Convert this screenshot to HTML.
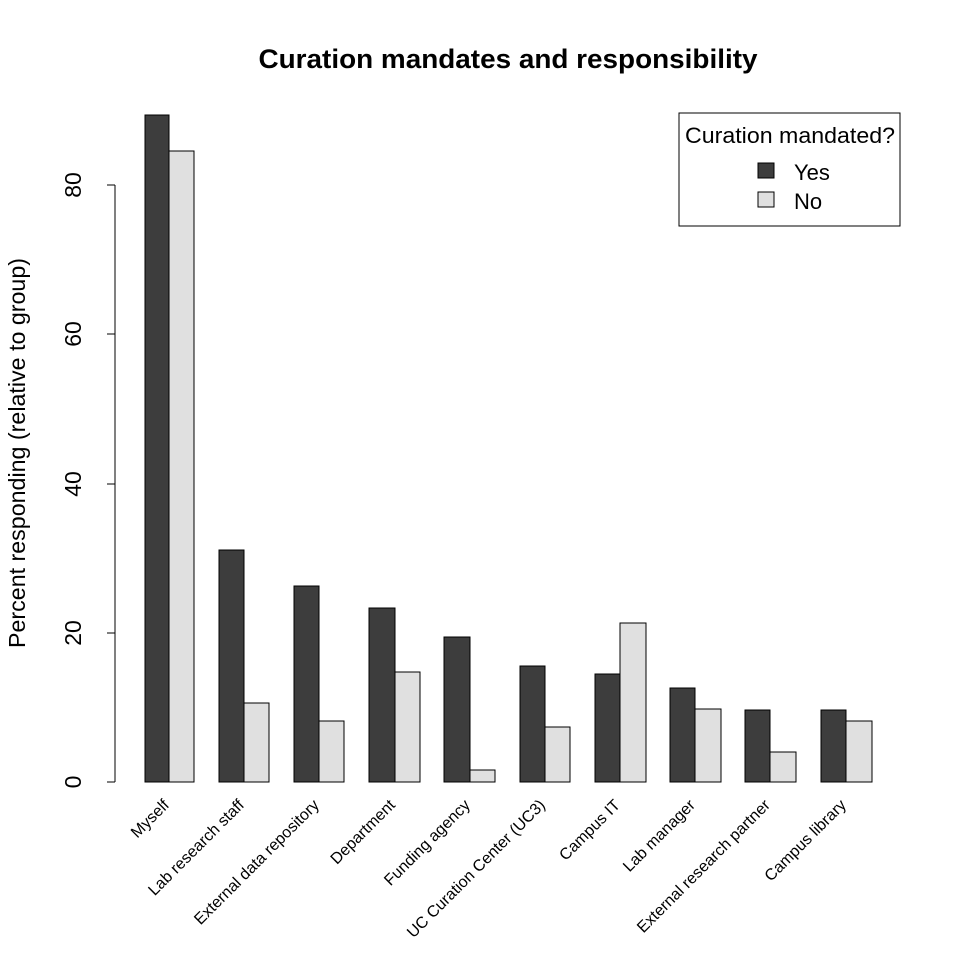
<!DOCTYPE html>
<html><head><style>body{margin:0;background:#fff}</style></head><body>
<svg width="960" height="960" xmlns="http://www.w3.org/2000/svg" font-family="Liberation Sans, Arial, sans-serif">
<text x="508" y="68" font-size="27" font-weight="bold" text-anchor="middle" textLength="499" lengthAdjust="spacingAndGlyphs">Curation mandates and responsibility</text>
<g stroke="#000" stroke-width="1">
<line x1="115" y1="185" x2="115" y2="782"/>
<line x1="107" y1="782" x2="115" y2="782"/>
<line x1="107" y1="633" x2="115" y2="633"/>
<line x1="107" y1="484" x2="115" y2="484"/>
<line x1="107" y1="334" x2="115" y2="334"/>
<line x1="107" y1="185" x2="115" y2="185"/>
</g>
<g font-size="23" text-anchor="middle">
<text transform="translate(81,782) rotate(-90)">0</text>
<text transform="translate(81,633) rotate(-90)">20</text>
<text transform="translate(81,484) rotate(-90)">40</text>
<text transform="translate(81,334) rotate(-90)">60</text>
<text transform="translate(81,185) rotate(-90)">80</text>
<text transform="translate(25,453) rotate(-90)" textLength="390" lengthAdjust="spacingAndGlyphs">Percent responding (relative to group)</text>
</g>
<g stroke="#000" stroke-width="1">
<rect x="145" y="115" width="24" height="667" fill="#3d3d3d"/><rect x="169" y="151" width="25" height="631" fill="#e0e0e0"/>
<rect x="219" y="550" width="25" height="232" fill="#3d3d3d"/><rect x="244" y="703" width="25" height="79" fill="#e0e0e0"/>
<rect x="294" y="586" width="25" height="196" fill="#3d3d3d"/><rect x="319" y="721" width="25" height="61" fill="#e0e0e0"/>
<rect x="369" y="608" width="26" height="174" fill="#3d3d3d"/><rect x="395" y="672" width="25" height="110" fill="#e0e0e0"/>
<rect x="444" y="637" width="26" height="145" fill="#3d3d3d"/><rect x="470" y="770" width="25" height="12" fill="#e0e0e0"/>
<rect x="520" y="666" width="25" height="116" fill="#3d3d3d"/><rect x="545" y="727" width="25" height="55" fill="#e0e0e0"/>
<rect x="595" y="674" width="25" height="108" fill="#3d3d3d"/><rect x="620" y="623" width="26" height="159" fill="#e0e0e0"/>
<rect x="670" y="688" width="25" height="94" fill="#3d3d3d"/><rect x="695" y="709" width="26" height="73" fill="#e0e0e0"/>
<rect x="745" y="710" width="25" height="72" fill="#3d3d3d"/><rect x="770" y="752" width="26" height="30" fill="#e0e0e0"/>
<rect x="821" y="710" width="25" height="72" fill="#3d3d3d"/><rect x="846" y="721" width="26" height="61" fill="#e0e0e0"/>
</g>
<g font-size="16" text-anchor="end">
<text transform="translate(170,806) rotate(-45)">Myself</text>
<text transform="translate(245,806) rotate(-45)">Lab research staff</text>
<text transform="translate(320,806) rotate(-45)">External data repository</text>
<text transform="translate(396,806) rotate(-45)">Department</text>
<text transform="translate(471,806) rotate(-45)">Funding agency</text>
<text transform="translate(546,806) rotate(-45)">UC Curation Center (UC3)</text>
<text transform="translate(621,806) rotate(-45)">Campus IT</text>
<text transform="translate(696,806) rotate(-45)">Lab manager</text>
<text transform="translate(771,806) rotate(-45)">External research partner</text>
<text transform="translate(847,806) rotate(-45)">Campus library</text>
</g>
<rect x="679" y="113" width="221" height="113" fill="none" stroke="#000"/>
<text x="790" y="143" font-size="22" text-anchor="middle" textLength="210" lengthAdjust="spacingAndGlyphs">Curation mandated?</text>
<rect x="758" y="163" width="16" height="15" fill="#3d3d3d" stroke="#000"/>
<text x="794" y="180" font-size="22">Yes</text>
<rect x="758" y="192" width="16" height="15" fill="#e0e0e0" stroke="#000"/>
<text x="794" y="209" font-size="22">No</text>
</svg>
</body></html>
